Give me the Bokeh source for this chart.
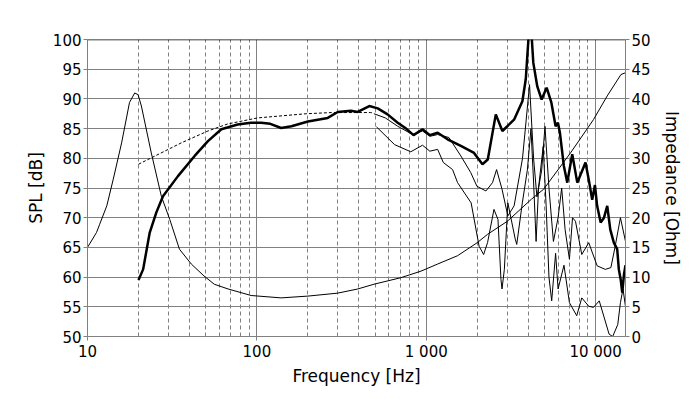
from bokeh.plotting import figure
from bokeh.models import Range1d, LinearAxis, FixedTicker, Span, Grid, CustomJSTickFormatter
from bokeh.embed import file_html
from bokeh.resources import INLINE

# ---- data ----
# On-axis SPL (thick)
spl_freq = [20, 21.3, 23.3, 25.5, 27.9, 34.2, 42.9, 51.4, 61.7, 77, 92, 106, 120, 139, 160, 200,
            262, 300, 359, 394, 461, 517, 591, 678, 760, 841, 950, 1050, 1167, 1335, 1600, 1914,
            2146, 2307, 2573, 2813, 3011, 3297, 3693, 3866, 4008, 4100, 4200, 4283, 4522, 4797,
            5135, 5473, 5802, 5988, 6150, 6490, 6796, 7272, 7787, 8710, 9130, 9540, 9900, 10200,
            10700, 11200, 11700, 12200, 12800, 13400, 13700, 14050, 14350, 14700, 15000]
spl_db = [59.5, 61.3, 67.5, 70.9, 73.6, 77.0, 80.4, 82.9, 84.9, 85.7, 86.0, 86.0, 85.8, 85.1, 85.4, 86.2,
          86.8, 87.8, 88.0, 87.8, 88.8, 88.4, 87.4, 86.0, 85.0, 83.9, 84.9, 83.9, 84.3, 83.2, 82.1, 80.9,
          79.0, 79.8, 87.4, 84.6, 85.4, 86.5, 89.6, 93.3, 100.0, 102.0, 100.0, 96.1, 92.1, 89.9,
          91.9, 89.4, 85.4, 86.0, 84.3, 78.7, 75.9, 80.7, 75.9, 79.3, 76.2, 73.0, 75.5, 72.0,
          69.2, 70.0, 72.0, 68.0, 65.8, 64.7, 61.3, 59.6, 57.4, 60.5, 62.0]

# Dashed (simulated) low-frequency response
sim_freq = [20, 35.8, 51.4, 67.5, 101, 195, 275, 370, 470, 491]
sim_db = [79.0, 82.6, 84.6, 85.8, 86.8, 87.5, 87.7, 87.7, 87.7, 87.6]

# Off-axis response 1 (thin)
off1_freq = [491, 573, 678, 830, 950, 1050, 1167, 1360, 1600, 1830, 1990, 2250, 2460, 2600, 2800,
             3030, 3300, 3700, 4070, 4300, 4500, 4800, 5020, 5300, 5630, 6000, 6300, 6600, 7000,
             7300, 7600, 8280, 9100, 10200, 11400, 12300, 13000, 14000, 15000]
off1_db = [87.5, 86.8, 85.4, 84.0, 84.6, 83.7, 84.0, 83.5, 80.4, 77.6, 75.3, 74.5, 75.9, 78.1, 74.8,
           70.3, 72.0, 80.0, 92.4, 80.0, 73.5, 78.0, 85.4, 75.0, 66.0, 70.0, 75.0, 68.0, 63.0,
           70.0, 69.4, 63.8, 65.8, 61.9, 61.3, 61.6, 65.0, 70.0, 66.0]

# Off-axis response 2 (thin)
off2_freq = [508, 650, 810, 950, 1050, 1167, 1260, 1430, 1530, 1840, 2050, 2180, 2300, 2510, 2650,
             2760, 2800, 2890, 3030, 3350, 3420, 3690, 3950, 4150, 4300, 4450, 4600, 4900, 5100,
             5300, 5500, 5800, 6000, 6500, 7000, 7730, 8280, 9100, 9700, 10500, 12000, 12600,
             13500, 14000, 14500, 15000]
off2_db = [85.3, 82.3, 81.1, 82.2, 81.2, 81.5, 79.3, 78.1, 75.9, 72.5, 65.2, 63.8, 65.8, 71.4, 69.7,
           59.6, 58.0, 61.3, 72.5, 66.4, 65.5, 72.5, 78.0, 85.0, 76.0, 66.0, 75.0, 82.0, 72.0,
           60.0, 56.0, 64.0, 58.0, 62.0, 55.7, 53.5, 56.5, 55.1, 54.9, 56.0, 50.4, 50.0,
           52.0, 55.7, 58.0, 55.0]

# Impedance (Ohm)
imp_freq = [10, 10.1, 11.3, 11.8, 13.0, 14.2, 15.9, 17.7, 19.0, 19.9, 20.8, 23.8, 27.3, 30.6, 34.9,
            41.0, 48.7, 56, 67.6, 92.5, 139, 200, 300, 394, 491, 708, 930, 1167, 1530, 2000, 2300,
            3010, 4170, 4930, 7100, 9700, 11700, 14100, 15000]
imp_ohm = [15.0, 15.2, 17.5, 18.9, 22.0, 26.5, 32.6, 39.4, 41.0, 40.7, 38.8, 30.9, 23.6, 19.7, 14.7,
           12.2, 10.2, 8.8, 8.0, 6.9, 6.5, 6.8, 7.3, 8.0, 8.8, 9.9, 11.0, 12.2, 13.6, 15.8, 17.2,
           19.4, 23.1, 24.8, 30.9, 36.5, 40.5, 44.1, 44.4]

x_major = [10, 100, 1000, 10000]
x_minor = [m * d for d in (10, 100, 1000) for m in range(2, 10)]
y_ticks = list(range(50, 101, 5))
imp_ticks = list(range(0, 51, 5))

FONT = "DejaVu Sans"
GRID = "#808080"

p = figure(x_axis_type="log", x_range=Range1d(10, 15000), y_range=Range1d(50, 100),
           frame_width=538, frame_height=297, min_border_left=87, min_border_right=60,
           min_border_top=39, min_border_bottom=50, output_backend="svg", toolbar_location=None,
           background_fill_color="white", border_fill_color="white")
p.outline_line_color = None
p.extra_y_ranges = {"imp": Range1d(0, 50)}
p.xgrid.visible = False
p.ygrid.visible = False

xax = p.xaxis[0]
xax.ticker = FixedTicker(ticks=x_major, minor_ticks=x_minor)
xax.formatter = CustomJSTickFormatter(
    code="return Math.round(tick).toString().replace(/\\B(?=(\\d{3})+(?!\\d))/g, ' ');")
yax = p.yaxis[0]
yax.ticker = FixedTicker(ticks=y_ticks)
rax = LinearAxis(y_range_name="imp", ticker=FixedTicker(ticks=imp_ticks))
p.add_layout(rax, "right")

xax.axis_label = "Frequency [Hz]"
yax.axis_label = "SPL [dB]"
rax.axis_label = "Impedance [Ohm]"
for ax in (xax, yax, rax):
    ax.axis_label_text_font = FONT
    ax.axis_label_text_font_size = "17px"
    ax.axis_label_text_font_style = "normal"
    ax.axis_label_text_color = "black"
    ax.major_label_text_font = FONT
    ax.major_label_text_font_size = "15px"
    ax.major_label_text_color = "black"
    ax.axis_line_color = GRID
    ax.major_tick_line_color = GRID
    ax.major_tick_in = 0
    ax.major_tick_out = 4
    ax.minor_tick_line_color = None
    ax.major_label_standoff = 2
    ax.axis_label_standoff = 4
xax.axis_label_standoff = 2
rax.axis_label_standoff = 8

p.add_layout(Grid(dimension=0, ticker=xax.ticker, grid_line_color=GRID, grid_line_width=1,
                  minor_grid_line_color=GRID, minor_grid_line_dash="4 3", minor_grid_line_width=1))
p.add_layout(Grid(dimension=1, ticker=yax.ticker, grid_line_color=GRID, grid_line_width=1))
p.add_layout(Span(location=100, dimension="width", line_color="black", line_width=1.5))

# curves
p.line(imp_freq, imp_ohm, y_range_name="imp", line_color="black", line_width=1)
p.line(off2_freq, off2_db, line_color="black", line_width=1)
p.line(off1_freq, off1_db, line_color="black", line_width=1)
p.line(sim_freq, sim_db, line_color="black", line_width=1, line_dash="3 2")
p.line(spl_freq, spl_db, line_color="black", line_width=2.5)

open("out.html", "w").write(file_html(p, INLINE))
